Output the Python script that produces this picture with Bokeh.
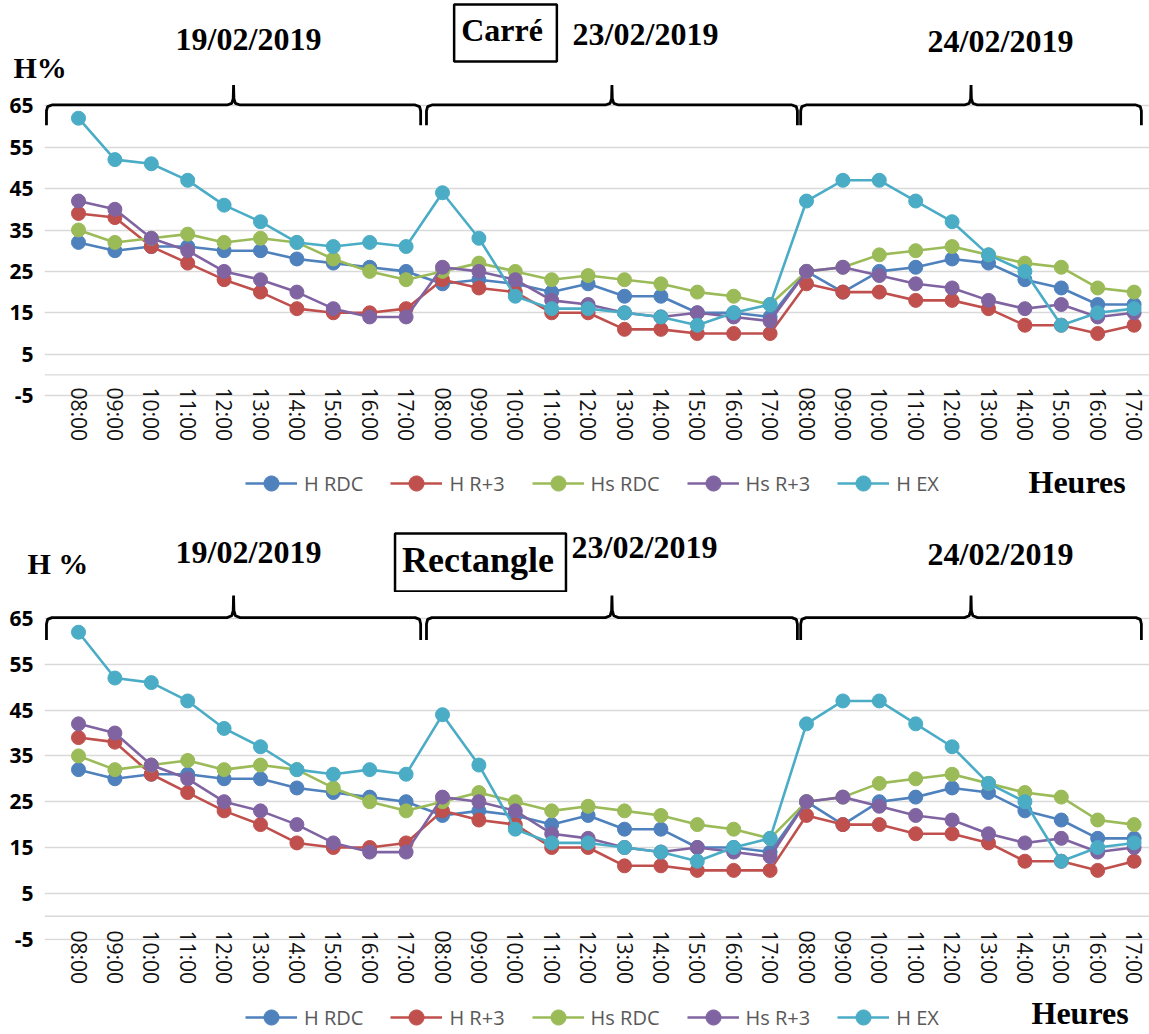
from bokeh.plotting import figure
from bokeh.models import Range1d, FixedTicker, Span, Label, Legend, LegendItem
from bokeh.layouts import column
from bokeh.embed import file_html
from bokeh.resources import INLINE

# ---------------- data ----------------
hours = ["08:00", "09:00", "10:00", "11:00", "12:00",
         "13:00", "14:00", "15:00", "16:00", "17:00"]
days = ["19/02/2019", "23/02/2019", "24/02/2019"]
series_names = ["H RDC", "H R+3", "Hs RDC", "Hs R+3", "H EX"]

h_rdc = [32, 30, 31, 31, 30, 30, 28, 27, 26, 25,
         22, 23, 22, 20, 22, 19, 19, 15, 15, 14,
         25, 20, 25, 26, 28, 27, 23, 21, 17, 17]
h_r3 = [39, 38, 31, 27, 23, 20, 16, 15, 15, 16,
        23, 21, 20, 15, 15, 11, 11, 10, 10, 10,
        22, 20, 20, 18, 18, 16, 12, 12, 10, 12]
hs_rdc = [35, 32, 33, 34, 32, 33, 32, 28, 25, 23,
          25, 27, 25, 23, 24, 23, 22, 20, 19, 17,
          25, 26, 29, 30, 31, 29, 27, 26, 21, 20]
hs_r3 = [42, 40, 33, 30, 25, 23, 20, 16, 14, 14,
         26, 25, 23, 18, 17, 15, 14, 15, 14, 13,
         25, 26, 24, 22, 21, 18, 16, 17, 14, 15]
h_ex = [62, 52, 51, 47, 41, 37, 32, 31, 32, 31,
        44, 33, 19, 16, 16, 15, 14, 12, 15, 17,
        42, 47, 47, 42, 37, 29, 25, 12, 15, 16]

y_ticks = [-5, 5, 15, 25, 35, 45, 55, 65]
y_tick_labels = ["-5", "5", "15", "25", "35", "45", "55", "65"]

# ---------------- styles / layout ----------------
colors = ["#4F81BD", "#C0504D", "#9BBB59", "#8064A2", "#4BACC6"]
series = [h_rdc, h_r3, hs_rdc, hs_r3, h_ex]
x_labels = [h for _ in days for h in hours]
xs = list(range(len(x_labels)))

SERIF = "Liberation Serif"
SANS = "Open Sans"
W = 1149
FRAME_LEFT = 44
DESC = 0.216  # serif descent (em)

brace_start = [-0.88, 9.56, 19.84]
brace_end = [9.40, 19.75, 29.20]
Y_H, Y_E, Y_T = 65.2, 60.3, 70.0


def brace_path(L, R):
    C = (L + R) / 2
    rx, ry = 0.15, 1.4
    bx = [L, L, L + 0.03, L + rx, C - 0.18, C - 0.05, C - 0.01, C, C + 0.01, C + 0.05, C + 0.18,
          R - rx, R - 0.03, R, R]
    by = [Y_E, Y_H - ry, Y_H - 0.4, Y_H, Y_H, Y_H + 0.4, Y_H + 1.5, Y_T, Y_H + 1.5, Y_H + 0.4, Y_H,
          Y_H, Y_H - 0.4, Y_H - ry, Y_E]
    return bx, by


def blank_fig(height):
    f = figure(width=W, height=height, x_range=Range1d(0, W), y_range=Range1d(0, height),
               x_axis_type=None, y_axis_type=None, output_backend="svg",
               toolbar_location=None, min_border=0)
    f.min_border_left = f.min_border_right = f.min_border_top = f.min_border_bottom = 0
    f.outline_line_color = None
    f.grid.visible = False
    f.frame_align = False
    return f


def serif_label(f, fig_bottom, rx, r_base, text, size_px, align="left"):
    y = fig_bottom - (r_base + DESC * size_px)
    f.add_layout(Label(x=rx, y=y, x_units="screen", y_units="screen", text=text,
                       text_align=align, text_font=SERIF, text_font_style="bold",
                       text_font_size=f"{size_px}px", text_color="black"))


def box_label(f, fig_bottom, cx, r_box_bottom, text, size_px, pad):
    f.add_layout(Label(x=cx, y=fig_bottom - r_box_bottom, x_units="screen", y_units="screen",
                       text=text, text_align="center", text_font=SERIF,
                       text_font_style="bold", text_font_size=f"{size_px}px",
                       text_color="black", border_line_color="black",
                       border_line_width=2.5, background_fill_color="white",
                       padding=pad))


def make_header(top, height, ylab, ylab_pos, date_pos, box_text, box_pos, box_size, box_pad):
    f = blank_fig(height)
    bottom = top + height
    serif_label(f, bottom, ylab_pos[0], ylab_pos[1], ylab, 30)
    for d, (cx, by) in zip(days, date_pos):
        serif_label(f, bottom, cx, by, d, 32, align="center")
    box_label(f, bottom, box_pos[0], box_pos[1], box_text, box_size, box_pad)
    return f


def make_main(top, frame_bottom, border_bottom, y_px_per_unit, val_ref_65, standoff):
    frame_h = frame_bottom - top
    y_top = 65 + (val_ref_65 - top) / y_px_per_unit
    y_bot = y_top - frame_h / y_px_per_unit
    x0 = (FRAME_LEFT - 78) / 36.4
    x1 = x0 + (W - FRAME_LEFT) / 36.4
    p = figure(width=W, height=frame_h + border_bottom,
               x_range=Range1d(x0, x1), y_range=Range1d(y_bot, y_top),
               output_backend="svg", toolbar_location=None,
               min_border_left=FRAME_LEFT, min_border_right=0, min_border_top=0,
               min_border_bottom=border_bottom)
    p.frame_align = False
    p.outline_line_color = None
    p.xgrid.visible = False
    p.ygrid.ticker = FixedTicker(ticks=y_ticks)
    p.ygrid.grid_line_color = "#d9d9d9"
    p.ygrid.grid_line_width = 1.4

    p.yaxis.ticker = FixedTicker(ticks=y_ticks)
    p.yaxis.major_label_overrides = {t: s for t, s in zip(y_ticks, y_tick_labels)}
    p.yaxis.axis_line_color = None
    p.yaxis.major_tick_line_color = None
    p.yaxis.minor_tick_line_color = None
    p.yaxis.major_label_standoff = 5
    p.yaxis.major_label_text_font = SANS
    p.yaxis.major_label_text_font_style = "bold"
    p.yaxis.major_label_text_font_size = "21px"
    p.yaxis.major_label_text_color = "#000000"

    p.xaxis.ticker = FixedTicker(ticks=xs)
    p.xaxis.major_label_overrides = {i: lab for i, lab in enumerate(x_labels)}
    p.xaxis.major_label_orientation = "vertical"
    p.xaxis.axis_line_color = None
    p.xaxis.major_tick_line_color = None
    p.xaxis.minor_tick_line_color = None
    p.xaxis.major_tick_out = 0
    p.xaxis.major_label_standoff = standoff
    p.xaxis.major_label_text_font = SANS
    p.xaxis.major_label_text_font_size = "21px"
    p.xaxis.major_label_text_color = "#111111"

    p.add_layout(Span(location=0, dimension="width", line_color="#d9d9d9", line_width=1.4))

    for vals, col in zip(series, colors):
        p.line(xs, vals, line_color=col, line_width=2.6)
        p.scatter(xs, vals, size=14, fill_color=col, line_color=col)

    bxs, bys = [], []
    for L, R in zip(brace_start, brace_end):
        bx, by = brace_path(L, R)
        bxs.append(bx)
        bys.append(by)
    p.multi_line(bxs, bys, line_color="black", line_width=2.8)
    return p


def make_footer(top, height, legend_center, heures_pos):
    f = blank_fig(height)
    f.x_range = Range1d(1000, 1001)
    f.y_range = Range1d(1000, 1001)
    bottom = top + height
    items = []
    for name, vals, col in zip(series_names, series, colors):
        ln = f.line(xs, vals, line_color=col, line_width=2.6)
        sc = f.scatter(xs, vals, size=14, fill_color=col, line_color=col)
        items.append(LegendItem(label=name, renderers=[ln, sc]))
    legend = Legend(items=items, orientation="horizontal",
                    location=(245, bottom - legend_center - 19),
                    glyph_width=52, glyph_height=38, label_standoff=7, spacing=27,
                    padding=0, margin=0, border_line_color=None,
                    background_fill_alpha=0,
                    label_text_font=SANS, label_text_font_size="20px",
                    label_text_color="#595959")
    f.add_layout(legend)
    serif_label(f, bottom, heures_pos[0], heures_pos[1], "Heures", 32)
    return f


# ----- top panel ("Carré") -----
h1 = make_header(0, 84, "H%", (13, 77), [(248, 50), (645, 45), (1000, 52)],
                 "Carré", (505, 61), 32, (7, 14, 7, 14))
m1 = make_main(84, 397, 58, 4.14, 105.3, -10)
f1 = make_footer(455, 65, 483, (1028, 493))

# ----- bottom panel ("Rectangle") -----
h2 = make_header(520, 72, "H %", (27, 573), [(248, 563), (644, 558), (1000, 565)],
                 "Rectangle", (480, 591), 36, (7, 12, 6, 12))
m2 = make_main(592, 940, 55, 4.58, 618, -10)
f2 = make_footer(995, 37, 1017, (1031, 1024))

layout = column(h1, m1, f1, h2, m2, f2)
open("out.html", "w").write(file_html(layout, INLINE))
